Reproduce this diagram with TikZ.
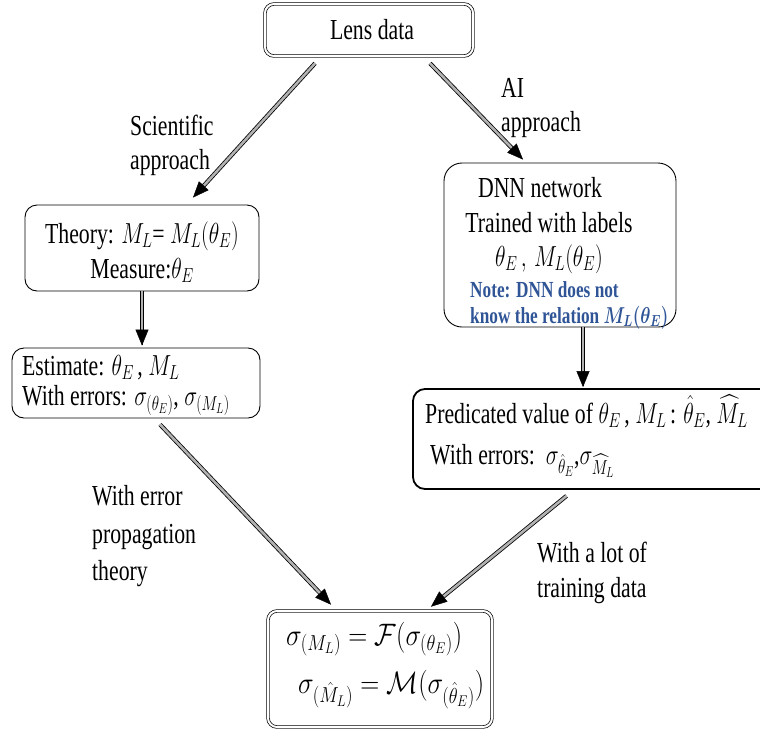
\RequirePackage{fix-cm}
\documentclass[tikz,border=0pt]{standalone}
\usepackage{amsmath}
\usepackage{fontspec}
\setmainfont{Liberation Serif}
\usepackage{graphicx}
\usetikzlibrary{arrows.meta,calc}
\definecolor{noteblue}{RGB}{47,85,151}
\newcommand{\sx}[1]{\scalebox{0.75}[1]{#1}}
\newcommand{\sxb}[1]{\scalebox{0.85}[1]{#1}}
\newcommand{\dbarrow}[2]{%
  \draw[shaft] (#1) -- ($(#2)!14pt!(#1)$);
  \draw[headst] ($(#2)!1pt!(#1)$) -- (#2);}
\begin{document}
\begin{tikzpicture}[x=1pt,y=-1pt,
 box/.style={draw, line width=0.9pt, rounded corners=12pt, inner sep=0pt},
 dbox/.style={draw, line width=0.7pt, double, double distance=2pt, rounded corners=9pt, inner sep=0pt},
 txt/.style={inner sep=0pt, font=\fontsize{29}{35}\selectfont},
 formula/.style={inner sep=0pt, font=\fontsize{31}{37}\selectfont},
 note/.style={inner sep=0pt, font=\fontsize{23}{27}\selectfont\bfseries\boldmath, text=noteblue},
 shaft/.style={draw=black, line width=0.8pt, double=gray!60, double distance=2.6pt},
 headst/.style={-{Triangle[length=16pt,width=13pt]}, line width=0.4pt}]
\clip (0,0) rectangle (760,729);

% boxes
\node[dbox, minimum width=208pt, minimum height=52pt] (lens) at (369,30) {};
\node[box, minimum width=234pt, minimum height=86pt] (theory) at (142,248) {};
\node[box, minimum width=248pt, minimum height=70pt] (estimate) at (136,383) {};
\node[box, minimum width=232pt, minimum height=164pt, rounded corners=18pt] (dnn) at (560,245) {};
\node[box, line width=1.8pt, minimum width=387pt, minimum height=100pt] (pred) at (606.5,439) {};
\node[dbox, minimum width=224pt, minimum height=116pt] (result) at (380,669) {};

% texts
\node[txt, anchor=base] (lenst) at (372,39) {\sx{Lens data}};
\node[txt, anchor=base west] (sci1) at (130,135) {\sx{Scientific}};
\node[txt, anchor=base west] (sci2) at (130,169) {\sx{approach}};
\node[txt, anchor=base west] (ai1) at (501,97) {\sx{AI}};
\node[txt, anchor=base west] (ai2) at (501,131) {\sx{approach}};
\node[txt, anchor=base] (th1) at (142,243) {\sx{Theory: $M_L$= $M_L(\theta_E)$}};
\node[txt, anchor=base] (th2) at (142,278) {\sx{Measure:$\theta_E$}};
\node[txt, anchor=base west] (es1) at (22,375) {\sx{Estimate: $\theta_E$\,, $M_L$}};
\node[txt, anchor=base west] (es2) at (22,405) {\sx{With errors: $\sigma_{(\theta_E)}$, $\sigma_{(M_L)}$}};
\node[txt, anchor=base] (dn1) at (540,197) {\sx{DNN network}};
\node[txt, anchor=base] (dn2) at (549,232) {\sx{Trained with labels}};
\node[txt, anchor=base] (dn3) at (549,266) {\sx{$\theta_E\,,\,M_L(\theta_E)$}};
\node[note, anchor=base west] (nt1) at (470,297) {\sx{Note: DNN does not}};
\node[note, anchor=base west] (nt2) at (470,323) {\sx{know the relation $M_L(\theta_E)$}};
\node[txt, anchor=base west] (pr1) at (425,423) {\sx{Predicated value of $\theta_E$\,, $M_L$\,: $\hat{\theta}_E$, $\widehat{M}_L$}};
\node[txt, anchor=base west] (pr2) at (430,464) {\sx{With errors:\ \ $\sigma_{\hat{\theta}_E}$,$\sigma_{\widehat{M}_L}$}};
\node[txt, anchor=base west] (ep1) at (92,505) {\sx{With error}};
\node[txt, anchor=base west] (ep2) at (92,543) {\sx{propagation}};
\node[txt, anchor=base west] (ep3) at (92,580) {\sx{theory}};
\node[txt, anchor=base west] (tr1) at (537,562) {\sx{With a lot of}};
\node[txt, anchor=base west] (tr2) at (537,597) {\sx{training data}};
\node[formula, anchor=base west] (rs1) at (286,645) {\sxb{$\sigma_{(M_L)} = \mathcal{F}(\sigma_{(\theta_E)})$}};
\node[formula, anchor=base west] (rs2) at (298,693) {\sxb{$\sigma_{(\hat{M}_L)} = \mathcal{M}(\sigma_{(\hat{\theta}_E)})$}};

% arrow end points
\coordinate (a1s) at ([xshift=-54pt,yshift=-7pt]lens.south);
\coordinate (a1e) at ([xshift=51pt,yshift=7pt]theory.north);
\coordinate (a2s) at ([xshift=61pt,yshift=-7pt]lens.south);
\coordinate (a2e) at ([xshift=-37pt,yshift=3pt]dnn.north);
\coordinate (a3s) at (theory.south);
\coordinate (a3e) at ([xshift=6pt,yshift=2pt]estimate.north);
\coordinate (a4s) at ([xshift=23pt]dnn.south);
\coordinate (a4e) at ([xshift=-23.5pt,yshift=1pt]pred.north);
\coordinate (a5s) at ([xshift=24pt,yshift=-6pt]estimate.south);
\coordinate (a5e) at ([xshift=-49pt,yshift=6pt]result.north);
\coordinate (a6s) at ([xshift=-40pt,yshift=-6pt]pred.south);
\coordinate (a6e) at ([xshift=51pt,yshift=4pt]result.north);

\dbarrow{a1s}{a1e}
\dbarrow{a2s}{a2e}
\dbarrow{a3s}{a3e}
\dbarrow{a4s}{a4e}
\dbarrow{a5s}{a5e}
\dbarrow{a6s}{a6e}
\end{tikzpicture}
\end{document}
